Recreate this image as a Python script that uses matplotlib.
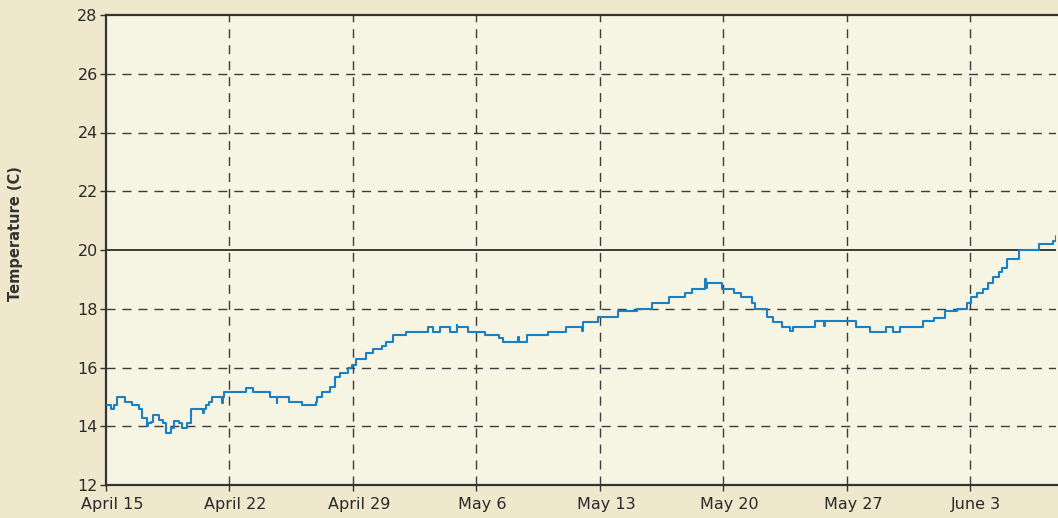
import numpy as np
import matplotlib.pyplot as plt
import matplotlib.transforms as mtransforms
from matplotlib.patches import Rectangle

# temperature record, step data: day since April 15 -> reading (C)
days = [0.00, 0.28, 0.45, 0.61, 1.08, 1.46, 1.89, 2.02, 2.31, 2.35, 2.38,
        2.53, 2.68, 3.00, 3.21, 3.40, 3.67, 3.85, 4.14, 4.33, 4.61, 4.80,
        5.52, 5.55, 5.67, 5.86, 5.99, 6.60, 6.63, 6.69, 7.94, 8.35, 9.30,
        9.69, 9.72, 10.39, 11.09, 11.88, 11.96, 12.23, 12.70, 13.01, 13.27,
        13.74, 13.93, 14.17, 14.74, 15.12, 15.63, 15.87, 16.29, 17.01, 18.27,
        18.52, 18.93, 19.50, 19.87, 19.90, 20.54, 21.49, 22.30, 22.52, 23.37,
        23.40, 23.85, 25.07, 26.08, 26.98, 27.02, 27.91, 29.04, 30.12, 30.94,
        31.93, 32.82, 33.20, 33.96, 34.01, 34.08, 34.90, 35.60, 35.98, 36.60,
        36.79, 37.49, 37.79, 38.30, 38.78, 38.96, 40.19, 40.70, 40.74, 42.52,
        43.31, 44.22, 44.60, 45.01, 46.30, 46.96, 47.56, 48.23, 48.79, 49.01,
        49.35, 49.73, 50.02, 50.26, 50.64, 50.78, 51.06, 51.77, 52.91, 53.67,
        53.85, 54.40]
temps = [14.72, 14.58, 14.72, 14.99, 14.84, 14.72, 14.58, 14.27, 14.10, 14.00, 14.10,
         14.15, 14.38, 14.21, 14.10, 13.78, 13.93, 14.19, 14.10, 13.95, 14.10, 14.58,
         14.45, 14.58, 14.72, 14.84, 14.99, 14.80, 14.99, 15.16, 15.29, 15.16, 14.99,
         14.80, 14.99, 14.84, 14.72, 14.84, 15.00, 15.18, 15.33, 15.67, 15.80,
         16.00, 16.08, 16.28, 16.48, 16.62, 16.74, 16.88, 17.10, 17.22, 17.37,
         17.22, 17.37, 17.22, 17.45, 17.37, 17.22, 17.10, 17.00, 16.88, 17.05,
         16.88, 17.10, 17.22, 17.37, 17.25, 17.56, 17.71, 17.92, 17.98, 18.20,
         18.39, 18.53, 18.67, 19.00, 18.70, 18.87, 18.67, 18.55, 18.41, 18.19,
         17.98, 17.71, 17.56, 17.37, 17.25, 17.37, 17.58, 17.40, 17.58, 17.37,
         17.22, 17.37, 17.22, 17.37, 17.58, 17.70, 17.94, 17.98, 18.19, 18.39,
         18.55, 18.66, 18.89, 19.09, 19.26, 19.38, 19.69, 20.00, 20.19, 20.32,
         20.48, 20.48]

tick_days = [0, 7, 14, 21, 28, 35, 42, 49]
tick_labels = ['April 15', 'April 22', 'April 29', 'May 6', 'May 13',
               'May 20', 'May 27', 'June 3']
y_ticks = [12, 14, 16, 18, 20, 22, 24, 26, 28]

fig = plt.figure(figsize=(10.58, 5.18), dpi=100, facecolor='#efe8cd')
# axes run past the right edge of the figure (cut off like the original)
ax = fig.add_axes([106/1058, 33/518, 962/1058, 470/518])
ax.set_facecolor('#f6f4e2')

ax.step(days, temps, where='post', color='#1a80c4', lw=1.5, zorder=3)

ax.set_xlim(0, 962/17.64)
ax.set_ylim(12, 28)
ax.set_xticks(tick_days)
ax.set_xticklabels(tick_labels)
ax.set_yticks(y_ticks)

# dashed grid drawn by hand, solid line at 20
dash = (0, (6.5, 5))
for d in tick_days[1:]:
    ax.axvline(d, linestyle=dash, color='#3c3c3c', lw=1.0, zorder=1)
for t in y_ticks[1:-1]:
    if t == 20:
        ax.axhline(t, color='#2e2e2e', lw=1.3, zorder=2)
    else:
        ax.axhline(t, linestyle=dash, color='#3c3c3c', lw=1.0, zorder=1)

for side in ['top', 'left', 'bottom']:
    ax.spines[side].set_color('#333333')
    ax.spines[side].set_linewidth(1.6)
ax.spines['right'].set_visible(False)

ax.tick_params(direction='out', length=4, width=1, color='#333333',
               labelsize=11.5, labelcolor='#2a2a2a')
ax.tick_params(axis='x', pad=5)
ax.tick_params(axis='y', pad=2)

# labels sit a little right of the tick
shift = mtransforms.ScaledTranslation(6/100, 0, fig.dpi_scale_trans)
for lab in ax.get_xticklabels():
    lab.set_transform(lab.get_transform() + shift)

# cover the dark column that shows at the cut-off right edge
fig.patches.append(Rectangle((1056/1058, 35/518), 2/1058, 466/518,
                             transform=fig.transFigure, facecolor='#f6f4e2',
                             edgecolor='none', zorder=10))

fig.text(16/1058, 1 - 234/518, 'Temperature (C)', rotation=90,
         fontweight='bold', fontsize=10.5, ha='center', va='center',
         color='#333333')

fig.savefig('out.png', dpi=100, facecolor=fig.get_facecolor())
